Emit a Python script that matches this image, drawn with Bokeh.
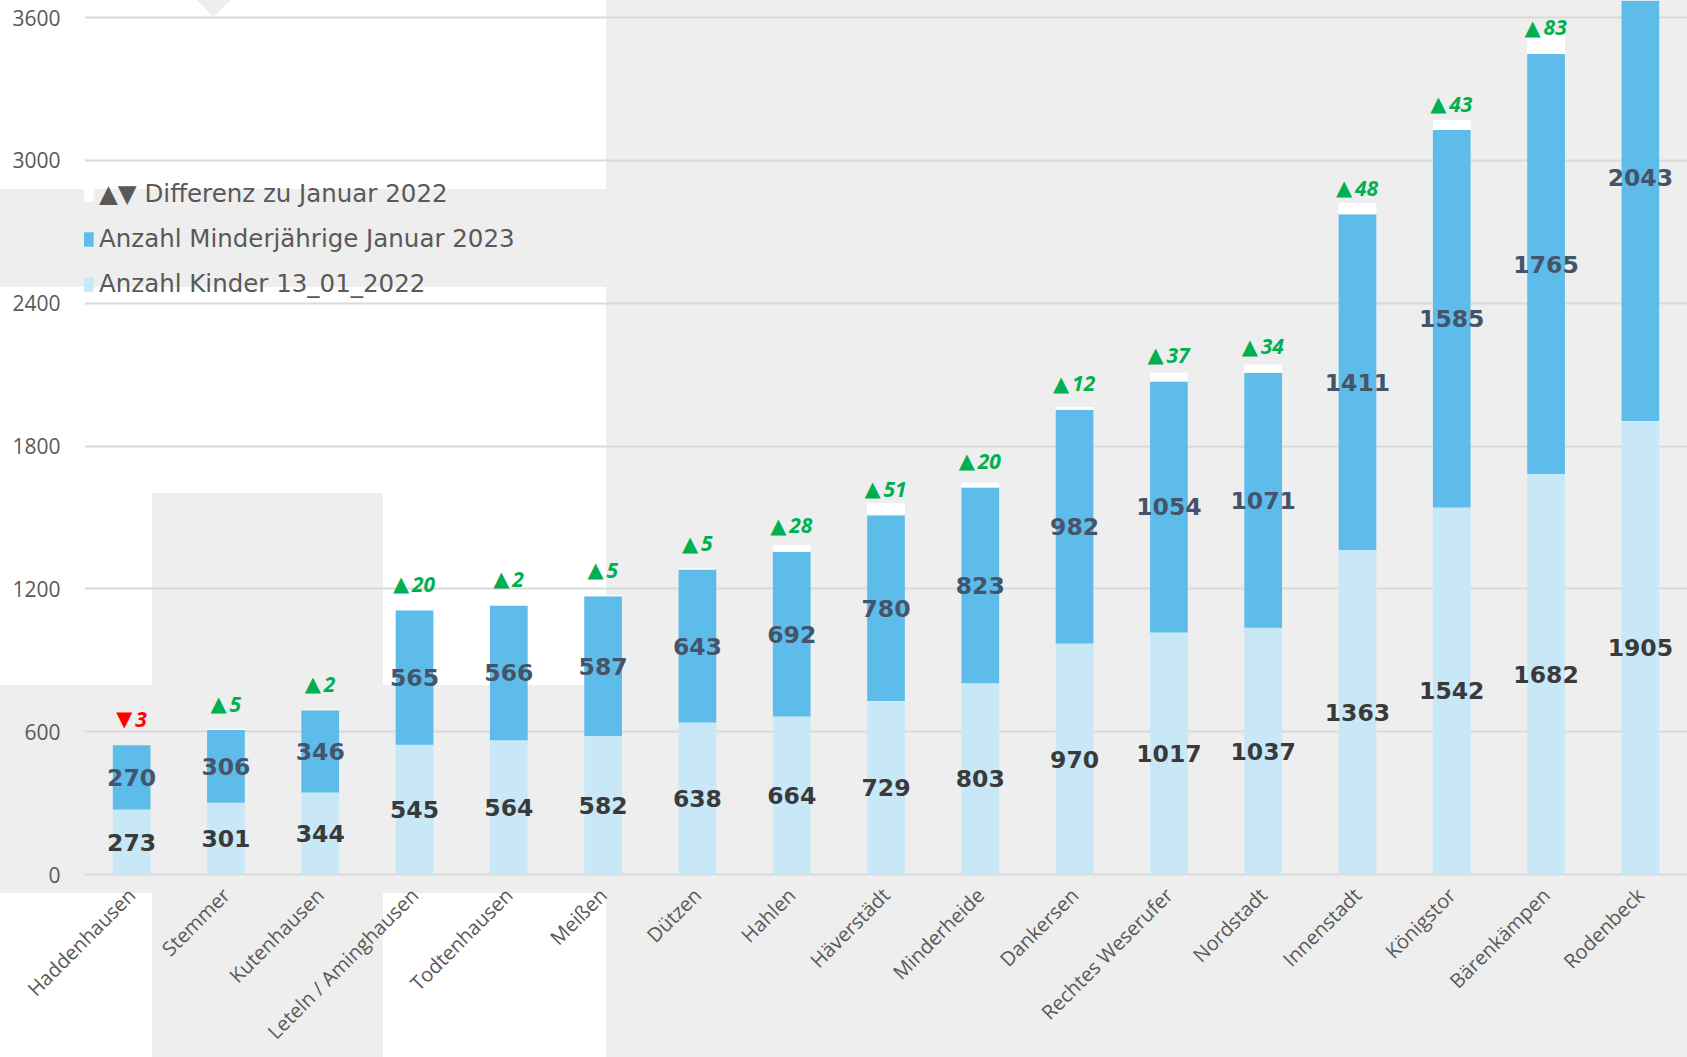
import math
from bokeh.plotting import figure
from bokeh.models import (Range1d, FixedTicker, Legend, LegendItem,
                          ColumnDataSource)
from bokeh.core.properties import value
from bokeh.embed import file_html
from bokeh.resources import INLINE

# ---------------- data ----------------
categories = ["Haddenhausen", "Stemmer", "Kutenhausen", "Leteln / Aminghausen",
              "Todtenhausen", "Meißen", "Dützen", "Hahlen", "Häverstädt",
              "Minderheide", "Dankersen", "Rechtes Weserufer", "Nordstadt",
              "Innenstadt", "Königstor", "Bärenkämpen", "Rodenbeck"]
kinder_2022 = [273, 301, 344, 545, 564, 582, 638, 664, 729, 803, 970, 1017,
               1037, 1363, 1542, 1682, 1905]
minderjaehrige_2023 = [270, 306, 346, 565, 566, 587, 643, 692, 780, 823, 982,
                       1054, 1071, 1411, 1585, 1765, 2043]
differenz = [-3, 5, 2, 20, 2, 5, 5, 28, 51, 20, 12, 37, 34, 48, 43, 83, None]
y_ticks = [0, 600, 1200, 1800, 2400, 3000, 3600]
series_names = ["▲▼ Differenz zu Januar 2022",
                "Anzahl Minderjährige Januar 2023",
                "Anzahl Kinder 13_01_2022"]

# ---------------- styles ----------------
C_DARK = "#5EBCEA"
C_LIGHT = "#C8E8F8"
C_DIFF = "#FFFFFF"
C_GRID = "#D9D9D9"
C_AXIS_TXT = "#595959"
C_LBL_DARK = "#44546A"
C_LBL_LIGHT = "#3A3A3A"
C_UP = "#00B050"
C_DOWN = "#FF0000"
GREY_BG = "#EEEEEE"

W, H = 1687, 1057
LEFT = 84
ZERO_PX, TOP_TICK_PX = 874, 17          # pixel rows of 0 and 3600
FRAME_BOTTOM = 883
BOTTOM = H - FRAME_BOTTOM
px_per_unit = (ZERO_PX - TOP_TICK_PX) / 3600.0
y_start = -(FRAME_BOTTOM - ZERO_PX) / px_per_unit
y_end = ZERO_PX / px_per_unit

xs = list(range(len(categories)))
top_light = kinder_2022
top_dark = [k + m for k, m in zip(kinder_2022, minderjaehrige_2023)]
diff_vals = [d if d is not None else 0 for d in differenz]
top_diff = [t + max(d, 0) for t, d in zip(top_dark, diff_vals)]

bar_src = ColumnDataSource(dict(x=xs, light=top_light, dark=top_dark, diff=top_diff,
                                zero=[0] * len(xs)))

# background patchwork behind the chart (left, top, width, height, gradient)
solid = f"linear-gradient({GREY_BG}, {GREY_BG})"
bg_layers = [
    (197, 0, 17, 17, f"linear-gradient(to top right, rgba(0,0,0,0) 50%, {GREY_BG} 50%)"),
    (214, 0, 17, 17, f"linear-gradient(to top left, rgba(0,0,0,0) 50%, {GREY_BG} 50%)"),
    (606, 0, W - 606, H, solid),
    (0, 189, 606, 98, solid),
    (152, 493, 231, H - 493, solid),
    (0, 685, 606, 208, solid),
]
styles = {
    "background-color": "#FFFFFF",
    "background-image": ", ".join(g for (*_, g) in bg_layers),
    "background-size": ", ".join(f"{w}px {h}px" for (_, _, w, h, _) in bg_layers),
    "background-position": ", ".join(f"{l}px {t}px" for (l, t, _, _, _) in bg_layers),
    "background-repeat": "no-repeat",
}

p = figure(width=W, height=H, output_backend="svg", toolbar_location=None,
           x_range=Range1d(-0.5, len(categories) - 0.5),
           y_range=Range1d(y_start, y_end),
           min_border_left=LEFT, min_border_right=0, min_border_top=0,
           min_border_bottom=BOTTOM,
           background_fill_alpha=0, border_fill_alpha=0,
           outline_line_color=None, styles=styles)

# bars
BAR_W = 0.4
r_light = p.vbar(x="x", bottom="zero", top="light", width=BAR_W, source=bar_src,
                 fill_color=C_LIGHT, line_color=None)
r_dark = p.vbar(x="x", bottom="light", top="dark", width=BAR_W, source=bar_src,
                fill_color=C_DARK, line_color=None)
r_diff = p.vbar(x="x", bottom="dark", top="diff", width=BAR_W, source=bar_src,
                fill_color=C_DIFF, line_color=None)

# value labels inside segments
lab_light = ColumnDataSource(dict(x=xs, y=[v / 2 for v in kinder_2022],
                                  t=[str(v) for v in kinder_2022]))
lab_dark = ColumnDataSource(dict(x=xs, y=[k + m / 2 for k, m in zip(kinder_2022, minderjaehrige_2023)],
                                 t=[str(v) for v in minderjaehrige_2023]))
for src, col in ((lab_light, C_LBL_LIGHT), (lab_dark, C_LBL_DARK)):
    p.text(x="x", y="y", text="t", source=src, text_font=value("DejaVu Sans"),
           text_font_style="bold", text_font_size="23.5px", text_color=col,
           text_align="center", text_baseline="middle")

# difference labels: upright triangle + bold italic number, centred together
TRI_W, GAP, DIGIT_W = 16.5, 2.5, 12.0
dx, dy, dtri, dnum, dc, off_tri, off_num = [], [], [], [], [], [], []
for i, d in enumerate(differenz):
    if d is None:
        continue
    num = str(abs(d))
    total = TRI_W + GAP + DIGIT_W * len(num)
    dx.append(i)
    dy.append(top_dark[i])
    dtri.append("▲" if d >= 0 else "▼")
    dnum.append(num)
    dc.append(C_UP if d >= 0 else C_DOWN)
    off_tri.append(-total / 2)
    off_num.append(-total / 2 + TRI_W + GAP)
diff_src = ColumnDataSource(dict(x=dx, y=dy, tri=dtri, num=dnum, c=dc,
                                 otri=off_tri, onum=off_num))
p.text(x="x", y="y", text="tri", source=diff_src, text_font=value("DejaVu Sans"),
       text_font_size="21px", text_color="c", text_align="left",
       text_baseline="middle", x_offset="otri", y_offset=-26)
p.text(x="x", y="y", text="num", source=diff_src, text_font=value("Open Sans"),
       text_font_style="bold italic", text_font_size="21px", text_color="c",
       text_align="left", text_baseline="middle", x_offset="onum", y_offset=-26)

# axes & grid
p.xgrid.visible = False
p.ygrid.ticker = FixedTicker(ticks=y_ticks)
p.ygrid.grid_line_color = C_GRID
p.ygrid.grid_line_width = 2

p.yaxis.ticker = FixedTicker(ticks=y_ticks)
p.yaxis.axis_line_color = None
p.yaxis.major_tick_line_color = None
p.yaxis.minor_tick_line_color = None
p.yaxis.major_label_standoff = 18
p.yaxis.major_label_text_font = "Open Sans"
p.yaxis.major_label_text_font_size = "21px"
p.yaxis.major_label_text_color = C_AXIS_TXT

p.xaxis.ticker = FixedTicker(ticks=xs)
p.xaxis.major_label_overrides = {i: c for i, c in enumerate(categories)}
p.xaxis.axis_line_color = None
p.xaxis.major_tick_line_color = None
p.xaxis.minor_tick_line_color = None
p.xaxis.major_tick_out = 0
p.xaxis.minor_tick_out = 0
p.xaxis.major_tick_in = 0
p.xaxis.major_label_orientation = math.pi / 4
p.xaxis.major_label_standoff = 8
p.xaxis.major_label_text_font = "Open Sans"
p.xaxis.major_label_text_font_size = "20px"
p.xaxis.major_label_text_color = C_AXIS_TXT

# legend
legend = Legend(items=[LegendItem(label=series_names[0], renderers=[r_diff]),
                       LegendItem(label=series_names[1], renderers=[r_dark]),
                       LegendItem(label=series_names[2], renderers=[r_light])],
                location=(-7, 576 + (FRAME_BOTTOM - ZERO_PX)), padding=0, margin=0,
                spacing=16, glyph_width=18, glyph_height=18, label_height=28,
                label_standoff=4,
                label_text_font="DejaVu Sans", label_text_font_size="24.5px",
                label_text_color=C_AXIS_TXT, background_fill_alpha=0,
                border_line_color=None)
p.add_layout(legend)

open("out.html", "w").write(file_html(p, INLINE))
